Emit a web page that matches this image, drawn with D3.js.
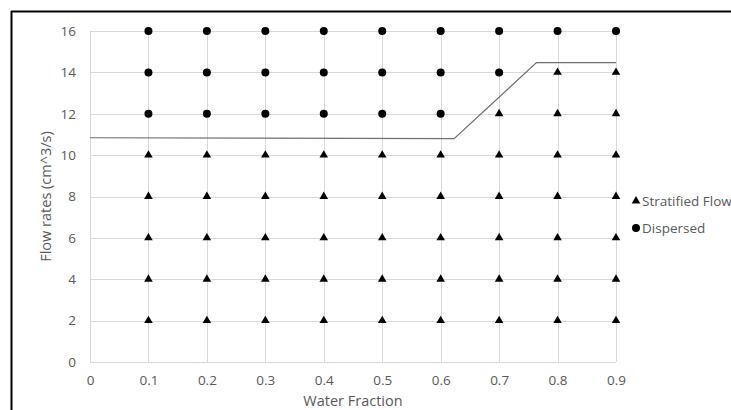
<!DOCTYPE html>
<html>
<head>
<meta charset="utf-8">
<script src="https://cdn.jsdelivr.net/npm/d3@7"></script>
<style>
  body { margin: 0; background: #fff; }
  svg { display: block; }
  text { font-family: "Open Sans", "Liberation Sans", sans-serif; fill: #595959; }
</style>
</head>
<body>
<div id="chart"></div>
<script>
const xTicks = [0, 0.1, 0.2, 0.3, 0.4, 0.5, 0.6, 0.7, 0.8, 0.9];
const yTicks = [0, 2, 4, 6, 8, 10, 12, 14, 16];

// Stratified Flow points (triangles)
const stratified = [
  [0.1, 2], [0.1, 4], [0.1, 6], [0.1, 8], [0.1, 10],
  [0.2, 2], [0.2, 4], [0.2, 6], [0.2, 8], [0.2, 10],
  [0.3, 2], [0.3, 4], [0.3, 6], [0.3, 8], [0.3, 10],
  [0.4, 2], [0.4, 4], [0.4, 6], [0.4, 8], [0.4, 10],
  [0.5, 2], [0.5, 4], [0.5, 6], [0.5, 8], [0.5, 10],
  [0.6, 2], [0.6, 4], [0.6, 6], [0.6, 8], [0.6, 10],
  [0.7, 2], [0.7, 4], [0.7, 6], [0.7, 8], [0.7, 10], [0.7, 12],
  [0.8, 2], [0.8, 4], [0.8, 6], [0.8, 8], [0.8, 10], [0.8, 12], [0.8, 14],
  [0.9, 2], [0.9, 4], [0.9, 6], [0.9, 8], [0.9, 10], [0.9, 12], [0.9, 14]
];

// Dispersed points (circles)
const dispersed = [
  [0.1, 12], [0.1, 14], [0.1, 16],
  [0.2, 12], [0.2, 14], [0.2, 16],
  [0.3, 12], [0.3, 14], [0.3, 16],
  [0.4, 12], [0.4, 14], [0.4, 16],
  [0.5, 12], [0.5, 14], [0.5, 16],
  [0.6, 12], [0.6, 14], [0.6, 16],
  [0.7, 14], [0.7, 16],
  [0.8, 16],
  [0.9, 16]
];

// transition boundary line
const boundary = [[0, 10.84], [0.623, 10.8], [0.764, 14.47], [0.9, 14.47]];

const width = 731;
const height = 410;
const margin = { top: 31, right: 115, bottom: 48, left: 90 };

const svg = d3.select("#chart")
  .append("svg")
  .attr("width", width)
  .attr("height", height);

// outer border (cropped: only top and left visible)
svg.append("line").attr("x1", 11).attr("x2", width).attr("y1", 11.5).attr("y2", 11.5)
  .attr("stroke", "#000").attr("stroke-width", 2);
svg.append("line").attr("x1", 11.5).attr("x2", 11.5).attr("y1", 11).attr("y2", height)
  .attr("stroke", "#000").attr("stroke-width", 2);

const x = d3.scaleLinear()
  .domain([0, 0.9])
  .range([margin.left, width - margin.right]);

const y = d3.scaleLinear()
  .domain([0, 16])
  .range([height - margin.bottom, margin.top]);

// grid
svg.append("g")
  .selectAll("line")
  .data(yTicks)
  .enter()
  .append("line")
  .attr("x1", x(0)).attr("x2", x(0.9))
  .attr("y1", d => Math.round(y(d)) + 0.5).attr("y2", d => Math.round(y(d)) + 0.5)
  .attr("stroke", "#d9d9d9");

svg.append("g")
  .selectAll("line")
  .data(xTicks)
  .enter()
  .append("line")
  .attr("x1", d => Math.round(x(d)) + 0.5).attr("x2", d => Math.round(x(d)) + 0.5)
  .attr("y1", y(0)).attr("y2", y(16))
  .attr("stroke", "#d9d9d9");

// axes labels
svg.append("g")
  .attr("transform", `translate(0, ${y(0)})`)
  .call(d3.axisBottom(x).tickValues(xTicks).tickSize(0).tickPadding(13).tickFormat(d => d === 0 ? "0" : d3.format(".1f")(d)))
  .call(g => g.select(".domain").remove())
  .selectAll("text")
  .style("font-size", "13.5px")
  .attr("fill", "#595959");

svg.append("g")
  .attr("transform", `translate(${x(0)}, 0)`)
  .call(d3.axisLeft(y).tickValues(yTicks).tickSize(0).tickPadding(14))
  .call(g => g.select(".domain").remove())
  .selectAll("text")
  .style("font-size", "13.5px")
  .attr("fill", "#595959");

// axis titles
svg.append("text")
  .attr("x", (x(0) + x(0.9)) / 2)
  .attr("y", 406)
  .attr("text-anchor", "middle")
  .style("font-size", "14.5px")
  .text("Water Fraction");

svg.append("text")
  .attr("transform", `translate(51, ${(y(0) + y(16)) / 2}) rotate(-90)`)
  .attr("text-anchor", "middle")
  .style("font-size", "14.5px")
  .text("Flow rates (cm^3/s)");

// boundary line
const line = d3.line().x(d => x(d[0])).y(d => y(d[1]));
svg.append("path")
  .datum(boundary)
  .attr("d", line)
  .attr("fill", "none")
  .attr("stroke", "#6f6f6f")
  .attr("stroke-width", 1.2);

// markers
const tri = d3.symbol().type(d3.symbolTriangle).size(32);

svg.append("g")
  .selectAll("path")
  .data(stratified)
  .enter()
  .append("path")
  .attr("d", tri)
  .attr("transform", d => `translate(${x(d[0])}, ${y(d[1])})`)
  .attr("fill", "#000");

svg.append("g")
  .selectAll("circle")
  .data(dispersed)
  .enter()
  .append("circle")
  .attr("cx", d => x(d[0]))
  .attr("cy", d => y(d[1]))
  .attr("r", 4)
  .attr("fill", "#000");

// legend
const legend = svg.append("g").attr("transform", "translate(636, 0)");
legend.append("path")
  .attr("d", tri)
  .attr("transform", "translate(0, 201)")
  .attr("fill", "#000");
legend.append("text")
  .attr("x", 6).attr("y", 206)
  .style("font-size", "13.5px")
  .text("Stratified Flow");
legend.append("circle")
  .attr("cx", 0).attr("cy", 228).attr("r", 4)
  .attr("fill", "#000");
legend.append("text")
  .attr("x", 6).attr("y", 233)
  .style("font-size", "13.5px")
  .text("Dispersed");
</script>
</body>
</html>
